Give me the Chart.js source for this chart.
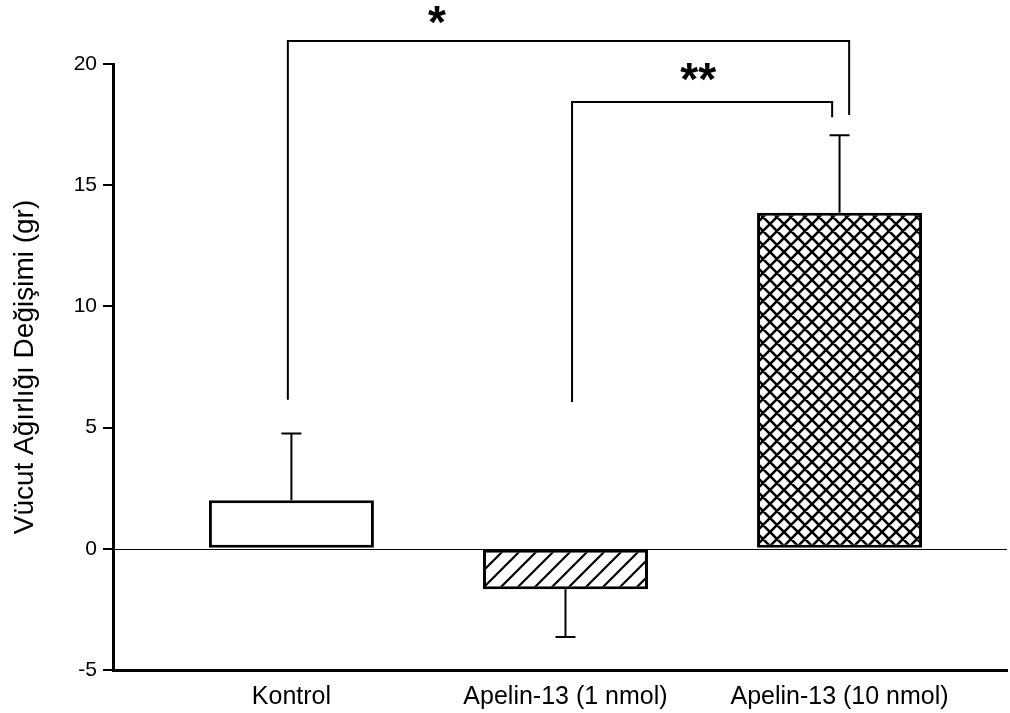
<!DOCTYPE html>
<html>
<head>
<meta charset="utf-8">
<script src="https://cdn.jsdelivr.net/npm/chart.js@4.4.1/dist/chart.umd.min.js"></script>
<style>
  html, body { margin: 0; padding: 0; background: #fff; }
  canvas { display: block; }
</style>
</head>
<body>
<canvas id="c" width="1010" height="713"></canvas>
<script>
// ---- data ----
const categories = ['Kontrol', 'Apelin-13 (1 nmol)', 'Apelin-13 (10 nmol)'];
const means = [2.0, -1.67, 13.86];
const errors = [2.76, 1.97, 3.2];
const yTickValues = [-5, 0, 5, 10, 15, 20];
const yTitle = 'Vücut Ağırlığı Değişimi (gr)';
// significance brackets: category indices, label, bracket level and leg ends (y values)
const sigFrom = [0, 1];
const sigTo = [2, 2];
const sigLabels = ['*', '**'];
const sigLevel = [20.95, 18.43];
const sigLeftEnd = [6.15, 6.06];
const sigRightEnd = [17.9, 17.8];

// ---- styling helpers ----
const FONT = "'Liberation Sans', Arial, sans-serif";

function diagPattern() {
  const s = 17;
  const c = document.createElement('canvas');
  c.width = s; c.height = s;
  const g = c.getContext('2d');
  g.fillStyle = '#fff'; g.fillRect(0, 0, s, s);
  g.strokeStyle = '#000'; g.lineWidth = 2.2;
  g.beginPath();
  g.moveTo(-2, s + 2); g.lineTo(s + 2, -2);
  g.moveTo(-4, 4); g.lineTo(4, -4);
  g.moveTo(s - 4, s + 4); g.lineTo(s + 4, s - 4);
  g.stroke();
  return g.createPattern(c, 'repeat');
}
function crossPattern() {
  const s = 14;
  const c = document.createElement('canvas');
  c.width = s; c.height = s;
  const g = c.getContext('2d');
  g.fillStyle = '#fff'; g.fillRect(0, 0, s, s);
  g.strokeStyle = '#000'; g.lineWidth = 2.6;
  g.beginPath();
  g.moveTo(-2, s + 2); g.lineTo(s + 2, -2);
  g.moveTo(-4, 4); g.lineTo(4, -4);
  g.moveTo(s - 4, s + 4); g.lineTo(s + 4, s - 4);
  g.moveTo(-2, -2); g.lineTo(s + 2, s + 2);
  g.moveTo(-4, s - 4); g.lineTo(4, s + 4);
  g.moveTo(s - 4, -4); g.lineTo(s + 4, 4);
  g.stroke();
  return g.createPattern(c, 'repeat');
}

const fills = ['#ffffff', diagPattern(), crossPattern()];

const zeroLinePlugin = {
  id: 'zeroLine',
  beforeDatasetsDraw(chart) {
    const { ctx, chartArea, scales } = chart;
    const y = Math.round(scales.y.getPixelForValue(0)) + 0.5;
    ctx.save();
    ctx.strokeStyle = '#000';
    ctx.lineWidth = 1;
    ctx.beginPath();
    ctx.moveTo(chartArea.left, y);
    ctx.lineTo(chartArea.right, y);
    ctx.stroke();
    ctx.restore();
  }
};

const errorBarPlugin = {
  id: 'errorBars',
  afterDatasetsDraw(chart) {
    const { ctx, scales } = chart;
    ctx.save();
    ctx.strokeStyle = '#000';
    ctx.lineWidth = 2;
    means.forEach((m, i) => {
      const x = scales.x.getPixelForValue(i + 1);
      const y0 = scales.y.getPixelForValue(m);
      const y1 = scales.y.getPixelForValue(m + Math.sign(m) * errors[i]);
      ctx.beginPath();
      ctx.moveTo(x, y0);
      ctx.lineTo(x, y1);
      ctx.moveTo(x - 10, y1);
      ctx.lineTo(x + 10, y1);
      ctx.stroke();
    });
    ctx.restore();
  }
};

const bracketPlugin = {
  id: 'brackets',
  afterDraw(chart) {
    const { ctx, scales } = chart;
    const xs = scales.x, ys = scales.y;
    const legOffsetL = [-0.013, 0.024];
    const legOffsetR = [0.035, -0.027];
    const labelX = [1.531, 2.484];
    const labelRise = [3, 7];
    ctx.save();
    ctx.strokeStyle = '#000';
    ctx.lineWidth = 2;
    sigLabels.forEach((lab, i) => {
      const xl = xs.getPixelForValue(sigFrom[i] + 1 + legOffsetL[i]);
      const xr = xs.getPixelForValue(sigTo[i] + 1 + legOffsetR[i]);
      const yl = ys.getPixelForValue(sigLevel[i]);
      ctx.beginPath();
      ctx.moveTo(xl, ys.getPixelForValue(sigLeftEnd[i]));
      ctx.lineTo(xl, yl);
      ctx.lineTo(xr, yl);
      ctx.lineTo(xr, ys.getPixelForValue(sigRightEnd[i]));
      ctx.stroke();
      ctx.fillStyle = '#000';
      ctx.font = 'bold 46px ' + FONT;
      ctx.textAlign = 'center';
      ctx.textBaseline = 'alphabetic';
      ctx.fillText(lab, xs.getPixelForValue(labelX[i]), yl - labelRise[i]);
    });
    ctx.restore();
  }
};

new Chart(document.getElementById('c'), {
  type: 'bar',
  data: {
    datasets: [{
      data: means.map((m, i) => ({ x: i + 1, y: m })),
      backgroundColor: fills,
      borderColor: '#000',
      borderWidth: 3,
      borderSkipped: false,
      barPercentage: 0.602,
      categoryPercentage: 1
    }]
  },
  options: {
    responsive: false,
    animation: false,
    devicePixelRatio: 1,
    layout: { padding: { top: 64, right: 3, left: 0, bottom: 0 } },
    plugins: { legend: { display: false }, tooltip: { enabled: false } },
    scales: {
      x: {
        type: 'linear',
        offset: false,
        bounds: 'data',
        min: 0.349,
        max: 3.611,
        afterFit(scale) { scale.height = 43; },
        afterBuildTicks(scale) { scale.ticks = categories.map((c, i) => ({ value: i + 1 })); },
        grid: { display: false, drawTicks: false, offset: false },
        border: { display: true, color: '#000', width: 3 },
        ticks: {
          autoSkip: false,
          maxRotation: 0,
          padding: 12,
          color: '#000',
          font: { family: FONT, size: 25 },
          callback: (v) => categories[Math.round(v) - 1]
        }
      },
      y: {
        min: -5,
        max: 20,
        afterFit(scale) { scale.width = 113; },
        afterBuildTicks(scale) { scale.ticks = yTickValues.map(v => ({ value: v })); },
        grid: { drawOnChartArea: false, drawTicks: true, tickLength: 10, color: '#000', lineWidth: 2 },
        border: { display: true, color: '#000', width: 3 },
        ticks: {
          padding: 6,
          color: '#000',
          font: { family: FONT, size: 21 }
        },
        title: {
          display: true,
          text: yTitle,
          color: '#000',
          font: { family: FONT, size: 28 },
          padding: { top: 8, bottom: 0 }
        }
      }
    }
  },
  plugins: [zeroLinePlugin, errorBarPlugin, bracketPlugin]
});
</script>
</body>
</html>
